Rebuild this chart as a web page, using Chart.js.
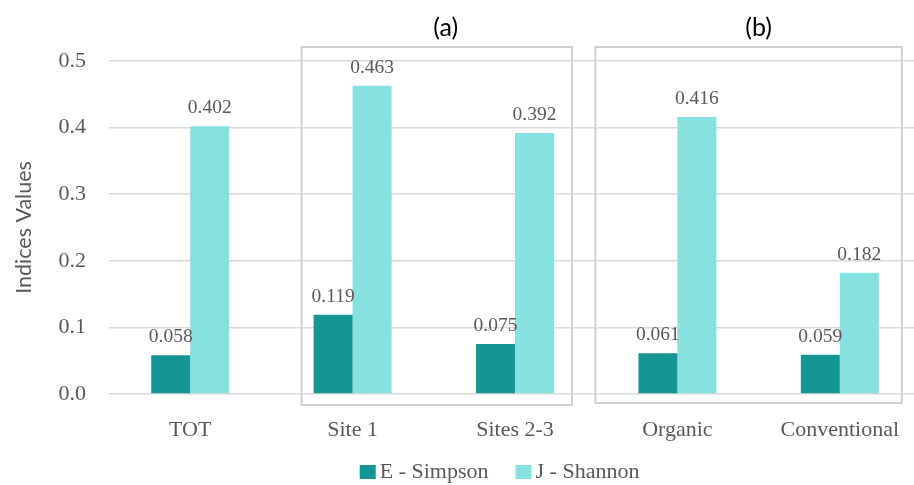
<!DOCTYPE html>
<html>
<head>
<meta charset="utf-8">
<script src="https://cdn.jsdelivr.net/npm/chart.js@4/dist/chart.umd.min.js"></script>
<style>
  html, body { margin: 0; padding: 0; overflow: hidden; background: #ffffff; }
  #wrap { width: 925px; height: 485px; }
</style>
</head>
<body>
<div id="wrap"><canvas id="chart" width="925" height="485"></canvas></div>
<script>
// Evenness indices per group
const categories = ['TOT', 'Site 1', 'Sites 2-3', 'Organic', 'Conventional'];
const simpsonE = [0.058, 0.119, 0.075, 0.061, 0.059];
const shannonJ = [0.402, 0.463, 0.392, 0.416, 0.182];
const yTickValues = [0.0, 0.1, 0.2, 0.3, 0.4, 0.5];
const seriesNames = ['E - Simpson', 'J - Shannon'];
const panelLabels = ['(a)', '(b)'];

const SERIF = '"Liberation Serif", "Times New Roman", serif';
const SANS = 'Lato, "Open Sans", sans-serif';
const TEXT_GREY = '#595959';

// Framed panels: first/last category of each panel, with edge offsets in px
const panels = [
  { label: panelLabels[0], from: 1, to: 2, padL: 51, padR: 57, padB: 11, labelDx: 12 },
  { label: panelLabels[1], from: 3, to: 4, padL: 82, padR: 62, padB: 9, labelDx: 0 }
];

const panelPlugin = {
  id: 'panels',
  afterDraw(chart) {
    const { ctx, chartArea, scales: { x } } = chart;
    ctx.save();
    ctx.strokeStyle = '#d0d0d0';
    ctx.lineWidth = 2;
    panels.forEach(p => {
      const left = x.getPixelForValue(p.from) - p.padL;
      const right = x.getPixelForValue(p.to) + p.padR;
      const top = chartArea.top - 14;
      const bottom = chartArea.bottom + p.padB;
      ctx.strokeRect(left, top, right - left, bottom - top);
      ctx.fillStyle = '#000000';
      ctx.font = '25px ' + SANS;
      ctx.textAlign = 'center';
      ctx.textBaseline = 'middle';
      const mid = (x.getPixelForValue(p.from) + x.getPixelForValue(p.to)) / 2;
      ctx.fillText(p.label, mid + p.labelDx, chartArea.top - 33);
    });
    ctx.restore();
  }
};

const valueLabelPlugin = {
  id: 'valueLabels',
  afterDatasetsDraw(chart) {
    const { ctx } = chart;
    ctx.save();
    ctx.fillStyle = TEXT_GREY;
    ctx.font = '19.5px ' + SERIF;
    ctx.textAlign = 'center';
    ctx.textBaseline = 'alphabetic';
    chart.data.datasets.forEach((ds, i) => {
      chart.getDatasetMeta(i).data.forEach((bar, j) => {
        ctx.fillText(ds.data[j].toFixed(3), bar.x, bar.y - 13);
      });
    });
    ctx.restore();
  }
};

// Legend drawn under the axis, items built from the datasets
const legendPlugin = {
  id: 'bottomLegend',
  afterDraw(chart) {
    const { ctx, chartArea } = chart;
    const box = 16, boxH = 14, gapText = 4, gapItem = 27;
    ctx.save();
    ctx.font = '22px ' + SERIF;
    ctx.textBaseline = 'middle';
    ctx.textAlign = 'left';
    const items = chart.data.datasets.map(ds => ({ text: ds.label, color: ds.backgroundColor, w: ctx.measureText(ds.label).width }));
    const total = items.reduce((s, it) => s + box + gapText + it.w, 0) + gapItem * (items.length - 1);
    const cx = chartArea.left + chartArea.width * 0.481;
    const cy = chartArea.bottom + 78;
    let xPos = cx - total / 2;
    items.forEach(it => {
      ctx.fillStyle = it.color;
      ctx.fillRect(xPos, cy - boxH / 2, box, boxH);
      xPos += box + gapText;
      ctx.fillStyle = TEXT_GREY;
      ctx.fillText(it.text, xPos, cy);
      xPos += it.w + gapItem;
    });
    ctx.restore();
  }
};

new Chart(document.getElementById('chart'), {
  type: 'bar',
  data: {
    labels: categories,
    datasets: [
      { label: seriesNames[0], data: simpsonE, backgroundColor: '#149695' },
      { label: seriesNames[1], data: shannonJ, backgroundColor: '#86e2e0' }
    ]
  },
  options: {
    responsive: false,
    animation: false,
    layout: { padding: { top: 61, right: 4, bottom: 41, left: 0 } },
    datasets: { bar: { categoryPercentage: 0.48, barPercentage: 1.0 } },
    plugins: { legend: { display: false }, tooltip: { enabled: false } },
    scales: {
      x: {
        grid: { display: false },
        border: { display: false },
        ticks: { color: TEXT_GREY, font: { family: SERIF, size: 22 }, padding: 15, maxRotation: 0 },
        afterFit(scale) { scale.height = 50; }
      },
      y: {
        min: 0,
        max: 0.5,
        afterBuildTicks(scale) { scale.ticks = yTickValues.map(v => ({ value: v })); },
        grid: { color: '#d9d9d9', lineWidth: 1.5, drawTicks: false },
        border: { display: false },
        ticks: { color: TEXT_GREY, font: { family: SERIF, size: 22 }, padding: 23, callback: v => v.toFixed(1) },
        title: { display: true, text: 'Indices Values', color: TEXT_GREY, font: { family: SANS, size: 21.5 }, padding: { top: 11 } },
        afterFit(scale) { scale.width = 109; }
      }
    }
  },
  plugins: [panelPlugin, valueLabelPlugin, legendPlugin]
});
</script>
</body>
</html>
